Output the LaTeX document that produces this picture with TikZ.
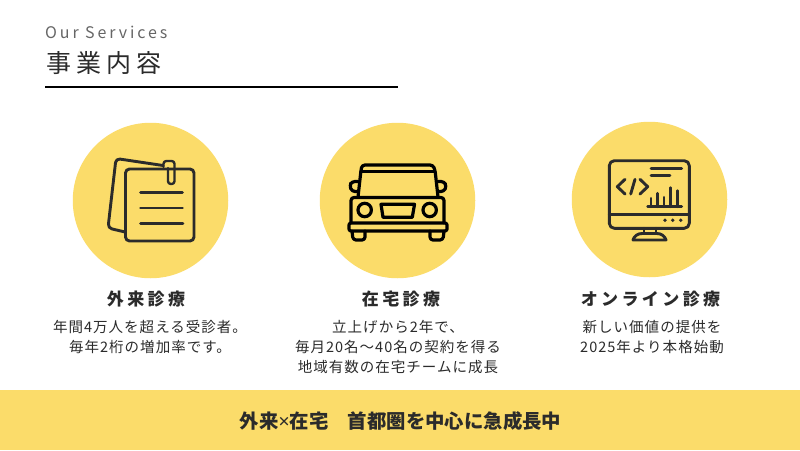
\documentclass[tikz,border=0pt]{standalone}
\usepackage{fontspec}
\setmainfont{Noto Sans CJK JP}
\newfontfamily\latn{Noto Sans}
\definecolor{ye}{HTML}{FBDC6A}
\definecolor{ink}{HTML}{2B2B2B}
\tikzset{x=1pt,y=-1pt,
 ic/.style={draw=ink,line width=2.9pt,line cap=round,line join=round},
 icb/.style={draw=black,line width=3.2pt,line cap=round,line join=round},
 circ/.style={circle,fill=ye,minimum size=155.5pt,inner sep=0,draw=none},
 ttl/.style={font=\fontsize{17}{17}\selectfont\bfseries\addfontfeature{LetterSpace=20},text=ink,anchor=center,inner sep=0},
 bd/.style={font=\fontsize{14.5}{20}\selectfont\addfontfeature{LetterSpace=7},text=ink,align=center,anchor=center,inner sep=0}}
\begin{document}
\begin{tikzpicture}
\useasboundingbox (0,0) rectangle (800,450);
\fill[white] (0,0) rectangle (800,450);
\node[font=\fontsize{16}{16}\selectfont\addfontfeature{LetterSpace=18},text=black!60,anchor=west,inner sep=0] (en) at (45,32) {Our Services};
\node[font=\fontsize{25}{25}\selectfont\addfontfeature{LetterSpace=21},text=ink,anchor=west,inner sep=0] (jt) at (46,63) {事業内容};
\draw[line width=2pt,black] (45,87) -- (398,87);
\node[circ] (c1) at (150.5,200.5) {};
\node[circ] (c2) at (397.5,200.5) {};
\node[circ] (c3) at (649.5,199.5) {};
% note icon
\draw[ic,rounded corners=4pt] (125,232) -- (108,228) -- (116,158.5) -- (163,165.5);
\draw[ic,rounded corners=4pt] (125.5,169) rectangle (194,241);
\draw[ic,line width=2.4pt,rounded corners=2.8pt] (163.5,167) -- (163.5,161) -- (174.5,161) -- (174.5,184) -- (168,184) -- (168,168);
\draw[ic] (140.5,192.3) -- (182.5,192.3);
\draw[ic] (140.5,208) -- (182.5,208);
\draw[ic] (140.5,223.3) -- (183,223.3);
% car icon
\draw[icb,rounded corners=3pt] (358,197) -- (361,170) -- (362,165) -- (433,165) -- (435,170) -- (438,197);
\draw[icb] (361,171.5) -- (435,171.5);
\draw[icb,rounded corners=3pt] (351,223) -- (351,197.5) -- (444,197.5) -- (444,223);
\draw[icb,rounded corners=2pt] (349,223) rectangle (447,231);
\draw[icb,rounded corners=3pt] (352,231) -- (353,240) -- (365,240) -- (365,231);
\draw[icb,rounded corners=3pt] (430,231) -- (430,240) -- (443,240) -- (444,231);
\draw[icb] (364.7,210) circle (6.7);
\draw[icb] (429.7,210) circle (6.7);
\draw[icb] (381,204.3) -- (414.5,204.3) -- (412.3,217.3) -- (383,217.3) -- cycle;
\draw[icb,rounded corners=3pt] (358,181.5) -- (352,181.5) -- (349.5,185.5) -- (352,191.5) -- (358,191.5);
\draw[icb,rounded corners=3pt] (438,181.5) -- (444,181.5) -- (446.5,186) -- (444,191.5) -- (438,191.5);
% monitor icon
\draw[ic,rounded corners=5pt] (609.3,160.7) rectangle (689.3,228.3);
\draw[ic] (609.3,214.3) -- (689.3,214.3);
\fill[ink] (665,220.3) circle (1.9) (672.7,220.3) circle (1.9) (680.7,220.3) circle (1.9);
\draw[ic] (644,228.3) -- (644,233.5) (656,228.3) -- (656,233.5);
\draw[ic] (633,240) -- (666,240) .. controls (665,236) and (661,233.5) .. (657,233.5) -- (642,233.5) .. controls (638,233.5) and (634,236) .. (633,240) -- cycle;
\draw[ic] (625,179.3) -- (617.3,186.7) -- (625,194);
\draw[ic] (635,179.3) -- (630.7,194);
\draw[ic] (640,179.3) -- (647.7,186.7) -- (640,194);
\draw[ic] (651,168.7) -- (681.7,168.7);
\draw[ic] (651,175.3) -- (670,175.3);
\draw[ic] (647.7,206.7) -- (681.7,206.7);
\draw[ic] (651,206.7) -- (651,198.3) (657.3,206.7) -- (657.3,193.3) (664,206.7) -- (664,197.3) (670.7,206.7) -- (670.7,187.7) (677.3,206.7) -- (677.3,190.7);
% labels
\node[ttl] (t1) at (146,299) {外来診療};
\node[ttl] (t2) at (401,299) {在宅診療};
\node[ttl] (t3) at (650.5,299) {オンライン診療};
\node[bd] (b1) at (150,337) {年間4万人を超える受診者。\\毎年2桁の増加率です。};
\node[bd] (b2) at (398,347) {立上げから2年で、\\毎月20名〜40名の契約を得る\\地域有数の在宅チームに成長};
\node[bd] (b3) at (652,337) {新しい価値の提供を\\2025年より本格始動};
\fill[ye] (0,390) rectangle (800,450);
\node[font=\fontsize{19.4}{19.4}\selectfont\bfseries,text=ink,inner sep=0] (bar) at (400.5,421) {外来{\latn\bfseries ×}在宅　首都圏を中心に急成長中};
\end{tikzpicture}
\end{document}
